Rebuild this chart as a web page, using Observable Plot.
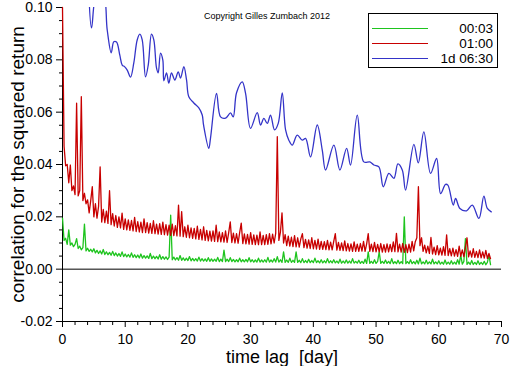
<!DOCTYPE html>
<html><head><meta charset="utf-8">
<script src="https://cdn.jsdelivr.net/npm/d3@7"></script>
<script src="https://cdn.jsdelivr.net/npm/@observablehq/plot@0.6"></script>
<style>html,body{margin:0;padding:0;background:#fff;} #chart{width:512px;height:366px;}</style>
</head><body><div id="chart"></div>
<script>
// time lag grid (days) for the 00:03 and 01:00 series
const lag = [
0,0.25,0.5,0.75, 1,1.25,1.5,1.75, 2,2.25,2.5,2.75, 3,3.25,3.5,3.75, 4,4.25,4.5,4.75,
5,5.25,5.5,5.75, 6,6.25,6.5,6.75, 7,7.25,7.5,7.75, 8,8.25,8.5,8.75, 9,9.25,9.5,9.75,
10,10.25,10.5,10.75, 11,11.25,11.5,11.75, 12,12.25,12.5,12.75, 13,13.25,13.5,13.75, 14,14.25,14.5,14.75,
15,15.25,15.5,15.75, 16,16.25,16.5,16.75, 17,17.25,17.5,17.75, 18,18.25,18.5,18.75, 19,19.25,19.5,19.75,
20,20.25,20.5,20.75, 21,21.25,21.5,21.75, 22,22.25,22.5,22.75, 23,23.25,23.5,23.75, 24,24.25,24.5,24.75,
25,25.25,25.5,25.75, 26,26.25,26.5,26.75, 27,27.25,27.5,27.75, 28,28.25,28.5,28.75, 29,29.25,29.5,29.75,
30,30.25,30.5,30.75, 31,31.25,31.5,31.75, 32,32.25,32.5,32.75, 33,33.25,33.5,33.75, 34,34.25,34.5,34.75,
35,35.25,35.5,35.75, 36,36.25,36.5,36.75, 37,37.25,37.5,37.75, 38,38.25,38.5,38.75, 39,39.25,39.5,39.75,
40,40.25,40.5,40.75, 41,41.25,41.5,41.75, 42,42.25,42.5,42.75, 43,43.25,43.5,43.75, 44,44.25,44.5,44.75,
45,45.25,45.5,45.75, 46,46.25,46.5,46.75, 47,47.25,47.5,47.75, 48,48.25,48.5,48.75, 49,49.25,49.5,49.75,
50,50.25,50.5,50.75, 51,51.25,51.5,51.75, 52,52.25,52.5,52.75, 53,53.25,53.5,53.75, 54,54.25,54.5,54.75,
55,55.25,55.5,55.75, 56,56.25,56.5,56.75, 57,57.25,57.5,57.75, 58,58.25,58.5,58.75, 59,59.25,59.5,59.75,
60,60.25,60.5,60.75, 61,61.25,61.5,61.75, 62,62.25,62.5,62.75, 63,63.25,63.5,63.75, 64,64.25,64.5,64.75,
65,65.25,65.5,65.75, 66,66.25,66.5,66.75, 67,67.25,67.5,67.75, 68,68.25
];

// series "00:03" (green)
const corr0003 = [
0.0195,0.0110,0.0118,0.0095, 0.0150,0.0092,0.0100,0.0086, 0.0095,0.0117,0.0079,0.0088, 0.0074,0.0082,0.0172,0.0070,
0.0080,0.0068,0.0076,0.0066, 0.0078,0.0062,0.0072,0.0060, 0.0070,0.0058,0.0075,0.0056, 0.0066,0.0055,0.0064,0.0053,
0.0068,0.0052,0.0062,0.0050, 0.0060,0.0049,0.0066,0.0048, 0.0058,0.0047,0.0056,0.0046, 0.0062,0.0045,0.0055,0.0044,
0.0054,0.0043,0.0058,0.0042, 0.0052,0.0042,0.0051,0.0041, 0.0060,0.0040,0.0050,0.0040, 0.0049,0.0039,0.0055,0.0038,
0.0048,0.0038,0.0047,0.0037, 0.0046,0.0206,0.0036,0.0046, 0.0035,0.0044,0.0034,0.0052, 0.0034,0.0043,0.0033,0.0042,
0.0033,0.0048,0.0032,0.0041, 0.0032,0.0040,0.0031,0.0046, 0.0031,0.0040,0.0031,0.0039, 0.0030,0.0044,0.0030,0.0039,
0.0030,0.0038,0.0030,0.0045, 0.0029,0.0038,0.0029,0.0073, 0.0029,0.0038,0.0029,0.0044, 0.0029,0.0037,0.0028,0.0036,
0.0028,0.0042,0.0028,0.0036, 0.0028,0.0037,0.0028,0.0044, 0.0028,0.0036,0.0027,0.0035, 0.0027,0.0042,0.0027,0.0035,
0.0027,0.0036,0.0027,0.0045, 0.0027,0.0035,0.0027,0.0040, 0.0027,0.0048,0.0027,0.0036, 0.0026,0.0066,0.0026,0.0035,
0.0026,0.0042,0.0026,0.0034, 0.0026,0.0066,0.0026,0.0034, 0.0025,0.0040,0.0025,0.0033, 0.0025,0.0038,0.0025,0.0033,
0.0025,0.0042,0.0025,0.0032, 0.0024,0.0036,0.0024,0.0032, 0.0024,0.0040,0.0024,0.0032, 0.0024,0.0036,0.0024,0.0031,
0.0023,0.0038,0.0023,0.0031, 0.0023,0.0035,0.0023,0.0031, 0.0023,0.0040,0.0023,0.0030, 0.0023,0.0034,0.0022,0.0030,
0.0022,0.0038,0.0022,0.0066, 0.0022,0.0030,0.0022,0.0036, 0.0022,0.0030,0.0066,0.0022, 0.0030,0.0022,0.0035,0.0022,
0.0030,0.0021,0.0040,0.0021, 0.0029,0.0021,0.0034,0.0021, 0.0029,0.0021,0.0200,0.0021, 0.0029,0.0021,0.0036,0.0021,
0.0029,0.0020,0.0034,0.0020, 0.0042,0.0020,0.0028,0.0020, 0.0034,0.0020,0.0028,0.0020, 0.0038,0.0020,0.0028,0.0020,
0.0032,0.0019,0.0027,0.0019, 0.0035,0.0019,0.0027,0.0019, 0.0032,0.0019,0.0027,0.0019, 0.0036,0.0019,0.0054,0.0019,
0.0030,0.0117,0.0018,0.0027, 0.0018,0.0033,0.0018,0.0026, 0.0018,0.0032,0.0018,0.0026, 0.0018,0.0030,0.0017,0.0026,
0.0054,0.0017
];

// series "01:00" (red)
const corr0100 = [
0.1000,0.0470,0.0395,0.0400, 0.0330,0.0398,0.0300,0.0318, 0.0285,0.0634,0.0280,0.0300, 0.0659,0.0262,0.0290,0.0250,
0.0265,0.0215,0.0262,0.0315, 0.0200,0.0250,0.0195,0.0240, 0.0391,0.0180,0.0228,0.0178, 0.0222,0.0175,0.0300,0.0170,
0.0212,0.0165,0.0205,0.0160, 0.0200,0.0158,0.0214,0.0152, 0.0192,0.0150,0.0188,0.0148, 0.0186,0.0146,0.0198,0.0144,
0.0182,0.0142,0.0180,0.0140, 0.0192,0.0140,0.0178,0.0138, 0.0175,0.0137,0.0185,0.0136, 0.0172,0.0134,0.0174,0.0133,
0.0180,0.0132,0.0170,0.0130, 0.0168,0.0129,0.0172,0.0128, 0.0166,0.0127,0.0245,0.0126, 0.0220,0.0124,0.0162,0.0122,
0.0168,0.0120,0.0158,0.0118, 0.0156,0.0116,0.0164,0.0114, 0.0152,0.0112,0.0162,0.0110, 0.0148,0.0108,0.0145,0.0107,
0.0146,0.0106,0.0168,0.0105, 0.0142,0.0104,0.0140,0.0103, 0.0146,0.0102,0.0140,0.0181, 0.0102,0.0138,0.0100,0.0136,
0.0099,0.0140,0.0176,0.0098, 0.0135,0.0097,0.0133,0.0096, 0.0140,0.0095,0.0131,0.0094, 0.0130,0.0094,0.0142,0.0094,
0.0129,0.0094,0.0132,0.0095, 0.0136,0.0097,0.0134,0.0100, 0.0138,0.0506,0.0110,0.0142, 0.0215,0.0100,0.0132,0.0090,
0.0126,0.0088,0.0122,0.0086, 0.0128,0.0085,0.0120,0.0084, 0.0116,0.0136,0.0082,0.0114, 0.0080,0.0112,0.0079,0.0120,
0.0078,0.0110,0.0077,0.0115, 0.0076,0.0106,0.0076,0.0105, 0.0075,0.0110,0.0074,0.0103, 0.0074,0.0106,0.0136,0.0073,
0.0102,0.0072,0.0100,0.0071, 0.0108,0.0070,0.0098,0.0069, 0.0097,0.0068,0.0104,0.0068, 0.0096,0.0068,0.0098,0.0069,
0.0106,0.0068,0.0097,0.0136, 0.0068,0.0096,0.0067,0.0102, 0.0066,0.0095,0.0066,0.0098, 0.0065,0.0094,0.0065,0.0097,
0.0066,0.0095,0.0067,0.0104, 0.0067,0.0137,0.0066,0.0096, 0.0065,0.0098,0.0064,0.0094, 0.0063,0.0096,0.0065,0.0106,
0.0070,0.0105,0.0120,0.0315, 0.0090,0.0120,0.0068,0.0092, 0.0062,0.0088,0.0060,0.0121, 0.0058,0.0084,0.0056,0.0090,
0.0055,0.0080,0.0054,0.0086, 0.0053,0.0131,0.0052,0.0078, 0.0051,0.0080,0.0050,0.0075, 0.0049,0.0088,0.0049,0.0074,
0.0048,0.0084,0.0120,0.0047, 0.0070,0.0046,0.0078,0.0045, 0.0068,0.0044,0.0074,0.0043, 0.0066,0.0042,0.0072,0.0041,
0.0060,0.0040
];

// series "1d 06:30" (blue): lags and values
const lagDaily = [
4.2,4.63,5.5,6.45,7.13,7.77,8.18,8.61,9.14,9.52,9.89,10.32,10.85,11.37,11.91,12.33,12.71,13.24,13.67,14.19,
14.56,14.99,15.26,15.63,16.00,16.16,16.59,16.95,17.38,17.91,18.45,18.82,19.35,19.78,20.14,20.94,21.74,22.28,22.49,23.33,
23.60,24.56,25.20,26.00,26.79,27.22,27.75,28.66,29.19,29.98,31.05,31.58,32.11,32.65,33.17,33.81,34.40,35.04,35.57,36.09,
36.63,37.43,38.23,38.76,39.55,40.62,41.42,41.95,43.27,44.23,45.30,45.93,47.00,48.05,49.01,49.65,50.45,51.15,52.04,52.84,
53.48,54.18,54.70,56.03,56.73,57.62,58.69,59.65,60.29,61.08,61.45,62.31,62.68,63.37,64.43,65.34,66.40,67.19,67.74,68.37
];
const corr1d0630 = [
0.1060,0.0922,0.1060,0.1060,0.0914,0.0827,0.0869,0.0868,0.0818,0.0780,0.0774,0.0761,0.0734,0.0788,0.0876,0.0898,0.0876,0.0735,0.0780,0.0898,
0.0876,0.0769,0.0750,0.0826,0.0799,0.0720,0.0750,0.0711,0.0750,0.0723,0.0754,0.0730,0.0774,0.0723,0.0659,0.0635,0.0616,0.0589,0.0551,0.0462,
0.0501,0.0672,0.0582,0.0577,0.0597,0.0582,0.0674,0.0716,0.0672,0.0538,0.0598,0.0551,0.0576,0.0557,0.0589,0.0532,0.0557,0.0674,0.0532,0.0493,
0.0474,0.0512,0.0493,0.0500,0.0429,0.0551,0.0455,0.0379,0.0474,0.0379,0.0462,0.0398,0.0589,0.0410,0.0410,0.0398,0.0391,0.0315,0.0366,0.0347,
0.0402,0.0379,0.0302,0.0477,0.0406,0.0525,0.0366,0.0423,0.0289,0.0324,0.0321,0.0245,0.0270,0.0232,0.0223,0.0245,0.0194,0.0279,0.0232,0.0219
];

const seriesNames = ["00:03", "01:00", "1d 06:30"];
const seriesColors = ["#1ec41e", "#c80000", "#3434c8"];

const yTicks = [-0.02, 0, 0.02, 0.04, 0.06, 0.08, 0.10];
const yMinorTicks = [-0.015,-0.01,-0.005,0.005,0.01,0.015,0.025,0.03,0.035,0.045,0.05,0.055,0.065,0.07,0.075,0.085,0.09,0.095];
const xTicks = [0, 10, 20, 30, 40, 50, 60, 70];
const xMinorTicks = [2,4,6,8,12,14,16,18,22,24,26,28,32,34,36,38,42,44,46,48,52,54,56,58,62,64,66,68];

const xTitle = "time lag  [day]";
const yTitle = "correlation for the squared return";
const copyright = "Copyright Gilles Zumbach 2012";

const fine = lag.flatMap((t, i) => [
  {lag: t, value: corr0003[i], series: seriesNames[0]},
  {lag: t, value: corr0100[i], series: seriesNames[1]}
]);
const daily = lagDaily.map((t, i) => ({lag: t, value: corr1d0630[i], series: seriesNames[2]}));

const font = '"Liberation Sans", Arial, sans-serif';

const plot = Plot.plot({
  width: 512, height: 366,
  marginLeft: 62, marginRight: 11, marginTop: 7, marginBottom: 45,
  x: {domain: [0, 70], label: null},
  y: {domain: [-0.02, 0.10], label: null},
  style: {fontFamily: font, fontSize: "14px", color: "#000", background: "#fff", overflow: "visible"},
  marks: [
    Plot.axisY(yMinorTicks, {tickSize: 3, tickFormat: () => "", label: null}),
    Plot.axisY(yTicks, {tickSize: 6, tickPadding: 4, tickFormat: d => d.toFixed(2), label: null}),
    Plot.axisX(xMinorTicks, {tickSize: 4, tickFormat: () => "", label: null}),
    Plot.axisX(xTicks, {tickSize: 6, tickPadding: 7, label: null}),
    Plot.ruleX([0], {stroke: "#000"}),
    Plot.ruleY([-0.02], {stroke: "#000"}),
    Plot.ruleY([0], {stroke: "#000"}),
    Plot.line(fine.filter(d => d.series === seriesNames[0]), {x: "lag", y: "value", stroke: seriesColors[0], strokeWidth: 1.3}),
    Plot.line(fine.filter(d => d.series === seriesNames[1]), {x: "lag", y: "value", stroke: seriesColors[1], strokeWidth: 1.3}),
    Plot.line(daily, {x: "lag", y: "value", stroke: seriesColors[2], strokeWidth: 1.3, curve: "catmull-rom", clip: true}),
    Plot.text([yTitle], {text: d => d, frameAnchor: "left", textAnchor: "middle", lineAnchor: "middle", rotate: -90, dx: -45, fontSize: 19}),
    Plot.text([xTitle], {text: d => d, frameAnchor: "bottom", textAnchor: "middle", lineAnchor: "middle", dy: 36, fontSize: 18}),
    Plot.text([copyright], {text: d => d, frameAnchor: "top", lineAnchor: "middle", dx: -15, dy: 9, fontSize: 9})
  ]
});
document.getElementById("chart").appendChild(plot);

// legend box inside the plot area
const lg = d3.select(plot).append("g").attr("font-family", font).attr("font-size", 13.5);
lg.append("rect").attr("x", 368.5).attr("y", 13.5).attr("width", 129).attr("height", 54)
  .attr("fill", "#fff").attr("stroke", "#000");
seriesNames.forEach((name, i) => {
  const yy = 28 + i * 15;
  lg.append("line").attr("x1", 372).attr("x2", 428).attr("y1", yy + 0.5).attr("y2", yy + 0.5)
    .attr("stroke", seriesColors[i]);
  lg.append("text").attr("x", 493).attr("y", yy).attr("dy", "0.35em").attr("text-anchor", "end")
    .attr("fill", "#000").text(name);
});
</script>
</body></html>
